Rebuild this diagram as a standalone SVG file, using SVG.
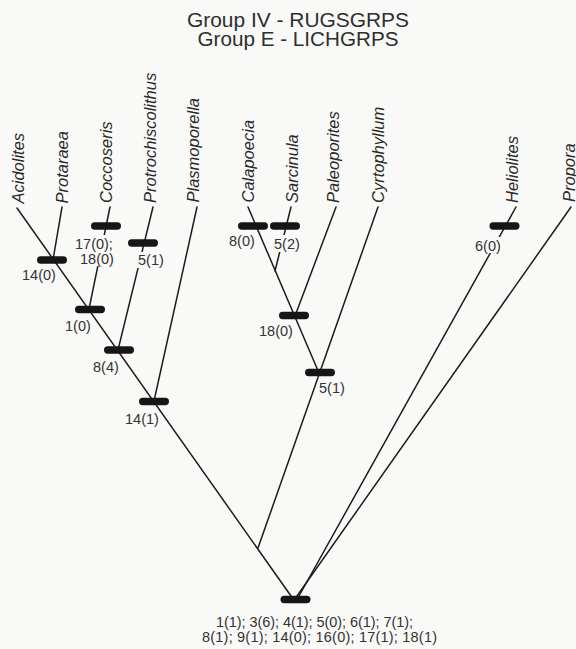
<svg xmlns="http://www.w3.org/2000/svg" width="576" height="649" viewBox="0 0 576 649">
  <style>
    .title { font-family: "Liberation Sans", Arial, sans-serif; font-size: 20.5px; fill: #2e2e2e; text-anchor: middle; }
    .taxon { font-family: "Liberation Sans", Arial, sans-serif; font-size: 16.5px; font-style: italic; fill: #2a2a2a; }
    .lbl { font-family: "Liberation Sans", Arial, sans-serif; font-size: 14.5px; fill: #333; }
    .edge { stroke: #1c1c1c; stroke-width: 1.5; fill: none; stroke-linecap: round; }
    .bar { fill: #161616; }
    .mask { fill: #f9f9f7; }
  </style>

  <rect x="0" y="0" width="576" height="649" fill="#f9f9f7"/>

  <!-- heading -->
  <g id="title">
    <text class="title" x="298" y="26.5" textLength="222" lengthAdjust="spacingAndGlyphs">Group IV - RUGSGRPS</text>
    <text class="title" x="298" y="46" textLength="201" lengthAdjust="spacingAndGlyphs">Group E - LICHGRPS</text>
  </g>

  <!-- branches of the tree -->
  <g id="connectors">
    <line class="edge" x1="17" y1="208" x2="291" y2="596"/>
    <line class="edge" x1="62" y1="207" x2="53" y2="260"/>
    <line class="edge" x1="110" y1="207" x2="89" y2="309"/>
    <line class="edge" x1="153" y1="207" x2="118" y2="350"/>
    <line class="edge" x1="197" y1="207" x2="154" y2="401"/>
    <line class="edge" x1="248" y1="207" x2="319" y2="373"/>
    <line class="edge" x1="291" y1="207" x2="275" y2="271"/>
    <line class="edge" x1="336" y1="207" x2="295" y2="316"/>
    <line class="edge" x1="378" y1="207" x2="258" y2="548"/>
    <line class="edge" x1="516" y1="207" x2="299" y2="596"/>
    <line class="edge" x1="571" y1="207" x2="297" y2="596"/>
  </g>

  <!-- terminal taxa -->
  <g id="taxon-acidolites"><text class="taxon" transform="translate(23.5,203.5) rotate(-90)">Acidolites</text></g>
  <g id="taxon-protaraea"><text class="taxon" transform="translate(67.5,203.5) rotate(-90)">Protaraea</text></g>
  <g id="taxon-coccoseris"><text class="taxon" transform="translate(112,203) rotate(-90)">Coccoseris</text></g>
  <g id="taxon-protrochiscolithus"><text class="taxon" transform="translate(155.5,203) rotate(-90)">Protrochiscolithus</text></g>
  <g id="taxon-plasmoporella"><text class="taxon" transform="translate(198.5,202.5) rotate(-90)">Plasmoporella</text></g>
  <g id="taxon-calapoecia"><text class="taxon" transform="translate(253.5,202.5) rotate(-90)">Calapoecia</text></g>
  <g id="taxon-sarcinula"><text class="taxon" transform="translate(297.5,203) rotate(-90)">Sarcinula</text></g>
  <g id="taxon-paleoporites"><text class="taxon" transform="translate(339,203) rotate(-90)">Paleoporites</text></g>
  <g id="taxon-cyrtophyllum"><text class="taxon" transform="translate(384,203) rotate(-90)">Cyrtophyllum</text></g>
  <g id="taxon-heliolites"><text class="taxon" transform="translate(518,203) rotate(-90)">Heliolites</text></g>
  <g id="taxon-propora"><text class="taxon" transform="translate(574.5,202) rotate(-90)">Propora</text></g>

  <!-- character-state changes on branches -->
  <g id="node-14-0">
    <rect class="bar" x="37" y="256.3" width="30" height="7.5" rx="3.7"/>
    <text class="lbl" x="22" y="280">14(0)</text>
  </g>
  <g id="node-17-0-18-0">
    <rect class="bar" x="91" y="222.3" width="30" height="7.5" rx="3.7"/>
    <rect class="mask" x="74" y="235" width="42" height="31"/>
    <text class="lbl" x="75" y="249">17(0);</text>
    <text class="lbl" x="80" y="264">18(0)</text>
  </g>
  <g id="node-5-1-a">
    <rect class="bar" x="128" y="239.3" width="30" height="7.5" rx="3.7"/>
    <rect class="mask" x="136" y="252" width="29" height="16"/>
    <text class="lbl" x="138" y="265">5(1)</text>
  </g>
  <g id="node-1-0">
    <rect class="bar" x="75" y="305.8" width="30" height="7.5" rx="3.7"/>
    <text class="lbl" x="65" y="331">1(0)</text>
  </g>
  <g id="node-8-4">
    <rect class="bar" x="104" y="346.3" width="30" height="7.5" rx="3.7"/>
    <text class="lbl" x="93" y="372">8(4)</text>
  </g>
  <g id="node-14-1">
    <rect class="bar" x="139" y="397.8" width="30" height="7.5" rx="3.7"/>
    <text class="lbl" x="125" y="424">14(1)</text>
  </g>
  <g id="node-8-0">
    <rect class="bar" x="238" y="222.3" width="30" height="7.5" rx="3.7"/>
    <text class="lbl" x="229" y="246">8(0)</text>
  </g>
  <g id="node-5-2">
    <rect class="bar" x="270" y="222.3" width="30" height="7.5" rx="3.7"/>
    <rect class="mask" x="273" y="235" width="29" height="17"/>
    <text class="lbl" x="274" y="249">5(2)</text>
  </g>
  <g id="node-18-0">
    <rect class="bar" x="279" y="311.8" width="30" height="7.5" rx="3.7"/>
    <text class="lbl" x="259" y="336">18(0)</text>
  </g>
  <g id="node-5-1-b">
    <rect class="bar" x="305" y="368.8" width="30" height="7.5" rx="3.7"/>
    <text class="lbl" x="319" y="393">5(1)</text>
  </g>
  <g id="node-6-0">
    <rect class="bar" x="489.5" y="222.3" width="30" height="7.5" rx="3.7"/>
    <rect class="mask" x="474" y="237" width="28" height="16"/>
    <text class="lbl" x="475" y="251">6(0)</text>
  </g>
  <g id="node-root">
    <rect class="bar" x="280.5" y="595.8" width="30" height="7.5" rx="3.7"/>
    <text class="lbl" x="216" y="627" textLength="197" lengthAdjust="spacing">1(1); 3(6); 4(1); 5(0); 6(1); 7(1);</text>
    <text class="lbl" x="202" y="641.5" textLength="235" lengthAdjust="spacing">8(1); 9(1); 14(0); 16(0); 17(1); 18(1)</text>
  </g>
</svg>
